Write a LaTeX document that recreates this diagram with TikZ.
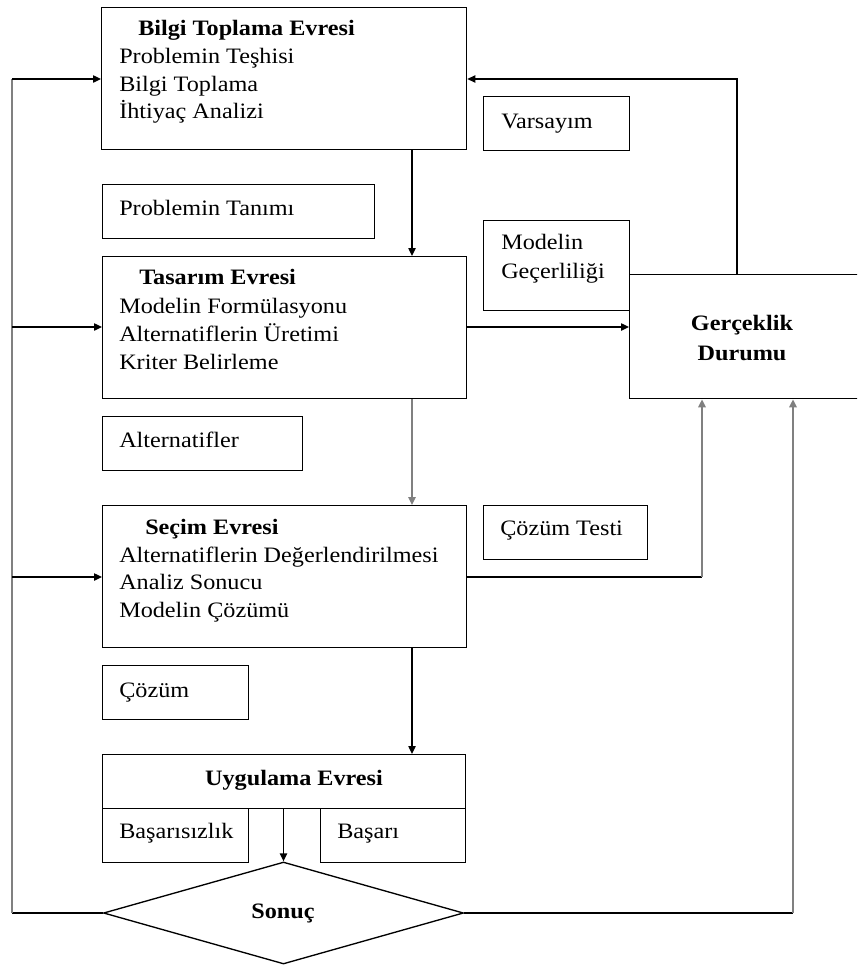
\documentclass[tikz,border=0pt]{standalone}
\usepackage{fontspec}
\setmainfont{Liberation Serif}[FakeStretch=1.1]
\usetikzlibrary{arrows.meta,shapes.geometric}
\begin{document}
\begin{tikzpicture}[x=0.75pt,y=-0.75pt,
  box/.style 2 args={draw, line width=1pt, inner sep=0pt, anchor=north west,
    minimum width=#1*0.75pt, minimum height=#2*0.75pt},
  txt/.style={inner sep=0pt, anchor=base west, font=\fontsize{16.5}{20}\selectfont},
  ttl/.style={inner sep=0pt, anchor=base west, font=\fontsize{16.5}{20}\selectfont\bfseries},
  ctl/.style={inner sep=0pt, anchor=base, font=\fontsize{16.5}{20}\selectfont\bfseries},
  conn/.style={line width=1pt},
  gconn/.style={line width=1.5pt, draw=black!50},
  arr/.style={-{Triangle[length=6pt,width=5.5pt]}},
]
\clip (0,0) rectangle (857,967);
\fill[white] (0,0) rectangle (857,967);

% boxes
\node[box={365}{142}] (bilgi) at (101,7) {};
\node[box={272}{54}] (tanim) at (102,184) {};
\node[box={364}{142}] (tasarim) at (102,256) {};
\node[box={200}{54}] (alt) at (102,416) {};
\node[box={364}{142}] (secim) at (102,505) {};
\node[box={146}{54}] (cozum) at (102,665) {};
\node[box={363}{54}] (uyg) at (102,754) {};
\node[box={146}{54}] (basz) at (102,808) {};
\node[box={145}{54}] (basari) at (320,808) {};
\node[box={146}{54}] (vars) at (483,96) {};
\node[box={146}{90}] (modgec) at (483,220) {};
\node[box={260}{124}] (gerc) at (629,274) {};
\node[box={164}{54}] (ctest) at (483,505) {};
\node[draw, line width=1pt, diamond, inner sep=0pt, minimum width=270pt, minimum height=76.5pt] (sonuc) at (283.5,913) {};

% texts
\node[ttl] (t1) at (138,35) {Bilgi Toplama Evresi};
\node[txt] (t1a) at (119,63) {Problemin Teşhisi};
\node[txt] (t1b) at (119,91) {Bilgi Toplama};
\node[txt] (t1c) at (119,118) {İhtiyaç Analizi};
\node[txt] (t2) at (119,215) {Problemin Tanımı};
\node[ttl] (t3) at (139,284) {Tasarım Evresi};
\node[txt] (t3a) at (119,313) {Modelin Formülasyonu};
\node[txt] (t3b) at (119,341) {Alternatiflerin Üretimi};
\node[txt] (t3c) at (119,369) {Kriter Belirleme};
\node[txt] (t4) at (119,447) {Alternatifler};
\node[ttl] (t5) at (145,534) {Seçim Evresi};
\node[txt] (t5a) at (119,562) {Alternatiflerin Değerlendirilmesi};
\node[txt] (t5b) at (119,589) {Analiz Sonucu};
\node[txt] (t5c) at (119,617) {Modelin Çözümü};
\node[txt] (t6) at (119,697) {Çözüm};
\node[ctl] (t7) at (294,785) {Uygulama Evresi};
\node[txt] (t8) at (119,838) {Başarısızlık};
\node[txt] (t9) at (337,838) {Başarı};
\node[ctl] (t10) at (283,918) {Sonuç};
\node[txt] (t11) at (501,128) {Varsayım};
\node[txt] (t12) at (501,249) {Modelin};
\node[txt] (t12b) at (501,278) {Geçerliliği};
\node[ctl] (t13) at (742,330) {Gerçeklik};
\node[ctl] (t13b) at (742,360) {Durumu};
\node[txt] (t14) at (500,535) {Çözüm Testi};

% helper coordinates
\coordinate (cx) at (412,0);
\coordinate (lx) at (12,0);
\coordinate (ya) at (0,79);
\coordinate (yb) at (0,327);
\coordinate (yc) at (0,577);
\coordinate (ux) at (737,0);
\coordinate (rx1) at (702,0);
\coordinate (rx2) at (793,0);

% connectors
\draw[conn,arr] (bilgi.south -| cx) -- (tasarim.north -| cx);
\draw[gconn,arr] (tasarim.south -| cx) -- (secim.north -| cx);
\draw[conn,arr] (secim.south -| cx) -- (uyg.north -| cx);
\draw[conn,arr] (sonuc.north |- uyg.south) -- (sonuc.north);

\draw[conn] (sonuc.west) -- (sonuc.west -| lx);
\draw[gconn] (sonuc.west -| lx) -- (lx |- ya);
\draw[conn,arr] (lx |- ya) -- (bilgi.west |- ya);
\draw[conn,arr] (lx |- yb) -- (tasarim.west |- yb);
\draw[conn,arr] (lx |- yc) -- (secim.west |- yc);

\draw[conn,arr] (gerc.north -| ux) -- (ux |- ya) -- (bilgi.east |- ya);
\draw[conn,arr] (tasarim.east |- yb) -- (gerc.west |- yb);
\draw[conn] (secim.east |- yc) -- (rx1 |- yc);
\draw[gconn,arr] (rx1 |- yc) -- (gerc.south -| rx1);
\draw[conn] (sonuc.east) -- (sonuc.east -| rx2);
\draw[gconn,arr] (sonuc.east -| rx2) -- (gerc.south -| rx2);
\end{tikzpicture}
\end{document}
